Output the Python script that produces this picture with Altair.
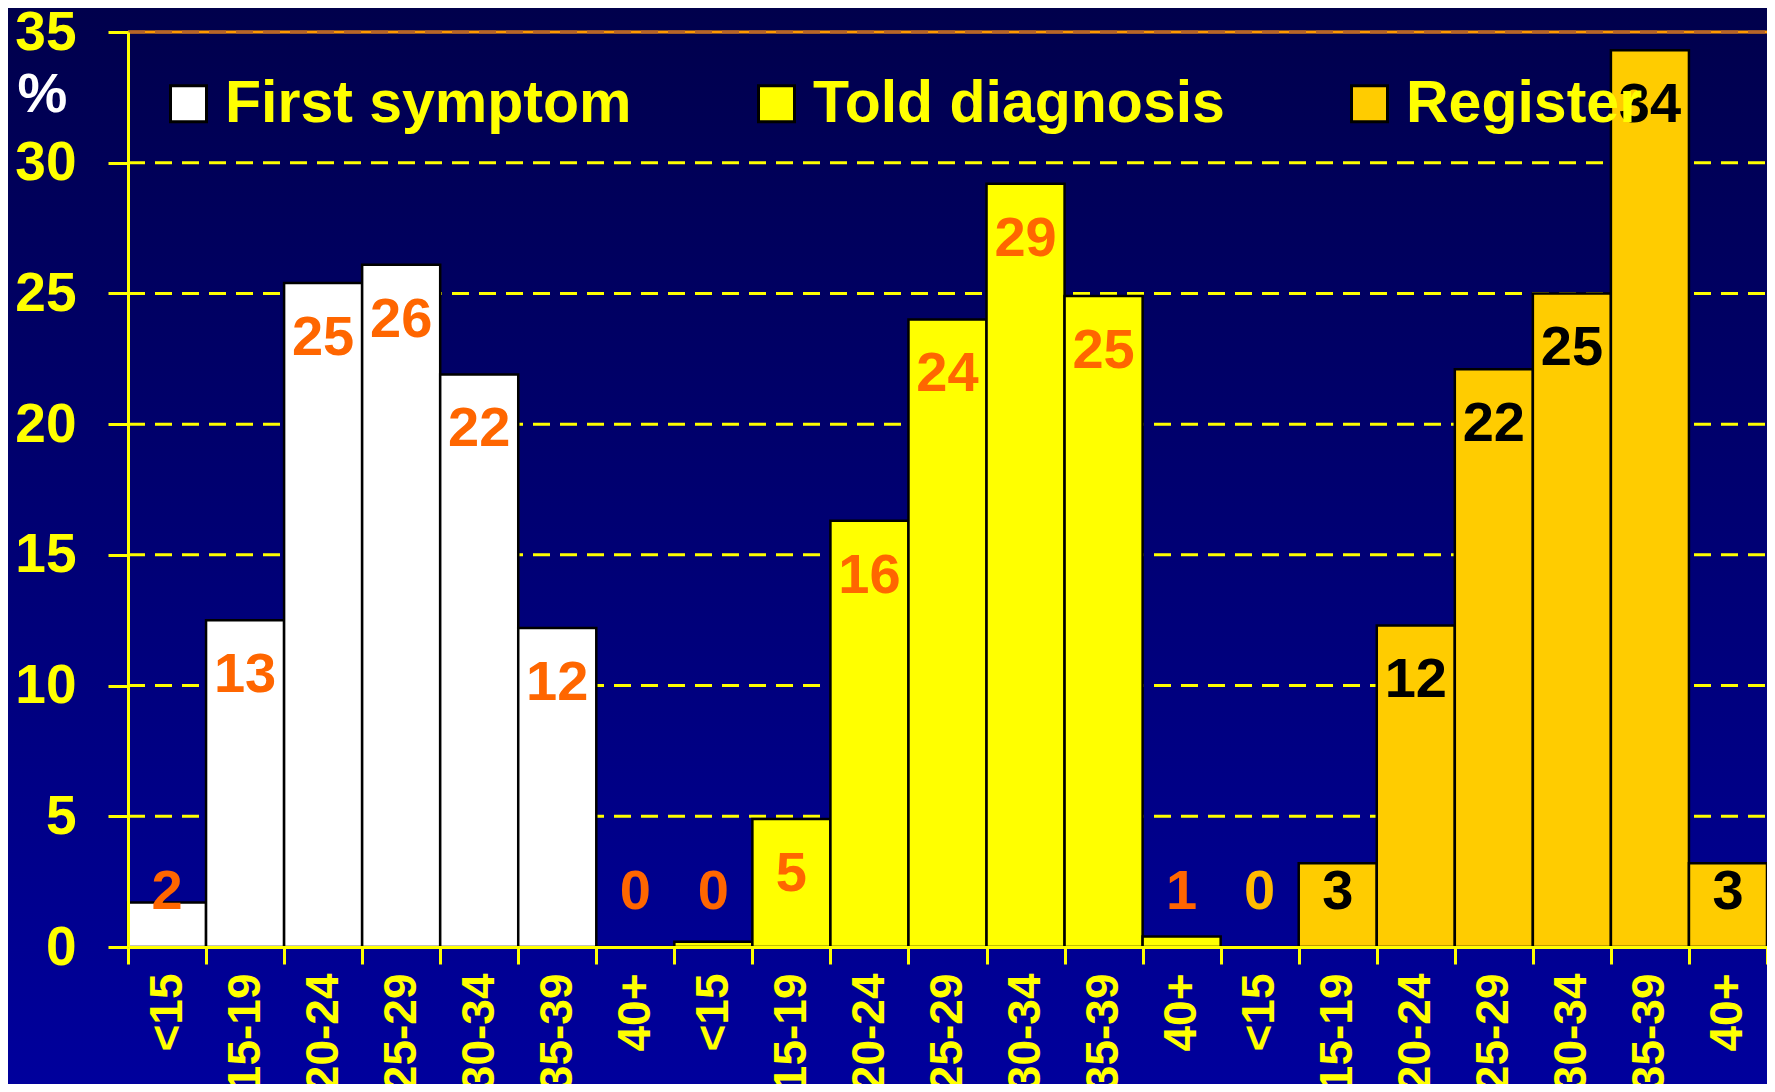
import altair as alt
import pandas as pd

ages = ["<15", "15-19", "20-24", "25-29", "30-34", "35-39", "40+"]
series = ["First symptom", "Told diagnosis", "Register"]
first_symptom = [1.7, 12.5, 25.4, 26.1, 21.9, 12.2, 0.0]
told_diagnosis = [0.2, 4.9, 16.3, 24.0, 29.2, 24.9, 0.4]
register = [0.0, 3.2, 12.3, 22.1, 25.0, 34.3, 3.2]
first_labels = [2, 13, 25, 26, 22, 12, 0]
told_labels = [0, 5, 16, 24, 29, 25, 1]
register_labels = [0, 3, 12, 22, 25, 34, 3]
bar_colors = ["#FFFFFF", "#FFFF00", "#FFCC00"]
y_ticks = [0, 5, 10, 15, 20, 25, 30, 35]
grid_ticks = [5, 10, 15, 20, 25, 30, 35]

rows = []
for s, vals, labs in zip(series, [first_symptom, told_diagnosis, register],
                         [first_labels, told_labels, register_labels]):
    for a, v, l in zip(ages, vals, labs):
        rows.append({"series": s, "age": a, "key": f"{s}|{a}", "value": v, "label": str(l)})
df = pd.DataFrame(rows)
keys = list(df["key"])

W, H = 1639, 915
FONT = "Liberation Sans"
YEL = "#FFFF00"

xscale = alt.Scale(domain=keys, paddingInner=0, paddingOuter=0)
yscale = alt.Scale(domain=[0, 35], nice=False, zero=True)

x_axis = alt.Axis(labelExpr="split(datum.label, '|')[1]", labelAngle=-90,
                  labelAlign="right", labelBaseline="middle",
                  labelFont=FONT, labelFontSize=46, labelFontWeight="bold",
                  labelColor=YEL, labelPadding=9, tickBand="extent",
                  tickSize=17, tickWidth=3, tickColor=YEL,
                  domainColor=YEL, domainWidth=3, grid=False, zindex=1,
                  labelOverlap=False, labelLimit=400)
y_axis = alt.Axis(values=y_ticks, labelFont=FONT, labelFontSize=55,
                  labelFontWeight="bold", labelColor=YEL, labelPadding=32,
                  tickSize=20, tickWidth=3, tickColor=YEL,
                  domainColor=YEL, domainWidth=3, grid=False, zindex=1,
                  titleColor="#FFFFFF", titleFont=FONT, titleFontSize=56,
                  titleFontWeight="bold", titleAngle=0, titleX=-86, titleY=62,
                  titleAlign="center", titleBaseline="middle")

# background gradient
bg = alt.Chart(pd.DataFrame({"a": [0]})).mark_rect(
    fill=alt.Gradient(
        gradient="linear",
        stops=[alt.GradientStop(color="#00004C", offset=0),
               alt.GradientStop(color="#00009C", offset=1)],
        x1=0, x2=0, y1=0, y2=1,
    )
).encode(
    x=alt.value(-120), x2=alt.value(W), y=alt.value(-24), y2=alt.value(H + 137)
)

top_line = alt.Chart(pd.DataFrame({"tick": [35]})).mark_rule(
    color="#FF9900", strokeWidth=3
).encode(
    y=alt.Y("tick:Q", scale=yscale, axis=y_axis, title="%"),
    x=alt.value(0), x2=alt.value(W)
)
grid = alt.Chart(pd.DataFrame({"tick": grid_ticks})).mark_rule(
    strokeWidth=3, strokeDash=[17, 10]
).encode(
    y=alt.Y("tick:Q", scale=yscale, axis=y_axis, title="%"),
    x=alt.value(0), x2=alt.value(W),
    color=alt.value(YEL, condition={"test": "datum.tick === 35", "value": "#B8652A"}),
)

bars = alt.Chart(df).mark_bar(stroke="black", strokeWidth=2.5, opacity=1).encode(
    x=alt.X("key:N", sort=keys, scale=xscale, title=None, axis=x_axis),
    y=alt.Y("value:Q", scale=yscale, title="%", axis=y_axis),
    color=alt.Color("series:N", scale=alt.Scale(domain=series, range=bar_colors),
                    legend=alt.Legend(orient="none", legendX=31, legendY=42,
                                      direction="horizontal", title=None,
                                      symbolType="square", symbolSize=1296,
                                      symbolStrokeColor="black", symbolStrokeWidth=3,
                                      symbolOpacity=1,
                                      labelFont=FONT, labelFontSize=59,
                                      labelFontWeight="bold", labelColor=YEL,
                                      labelOffset=7, columnPadding=115,
                                      labelLimit=1000, zindex=1)),
)

text = alt.Chart(df).transform_calculate(
    label_y="max(datum.value - 2.1, 2.1)"
).mark_text(font=FONT, fontSize=56, fontWeight="bold", baseline="middle", align="center").encode(
    x=alt.X("key:N", sort=keys, scale=xscale, title=None, axis=x_axis),
    y=alt.Y("label_y:Q", scale=yscale, title="%", axis=y_axis),
    text="label:N",
    color=alt.value("#FF6600", condition=[
        {"test": "datum.series === 'Register' && datum.value > 0", "value": "#000000"},
        {"test": "datum.series === 'Register'", "value": "#FFBB00"},
    ]),
)

chart = alt.layer(bg, top_line, grid, bars, text).properties(
    width=W, height=H,
    autosize=alt.AutoSizeParams(type="none"),
    padding={"left": 120, "top": 24, "right": 0, "bottom": 137},
    background="#00004C",
).configure_view(stroke=None)

chart.save("out.html", embed_options={"renderer": "svg", "actions": False})
